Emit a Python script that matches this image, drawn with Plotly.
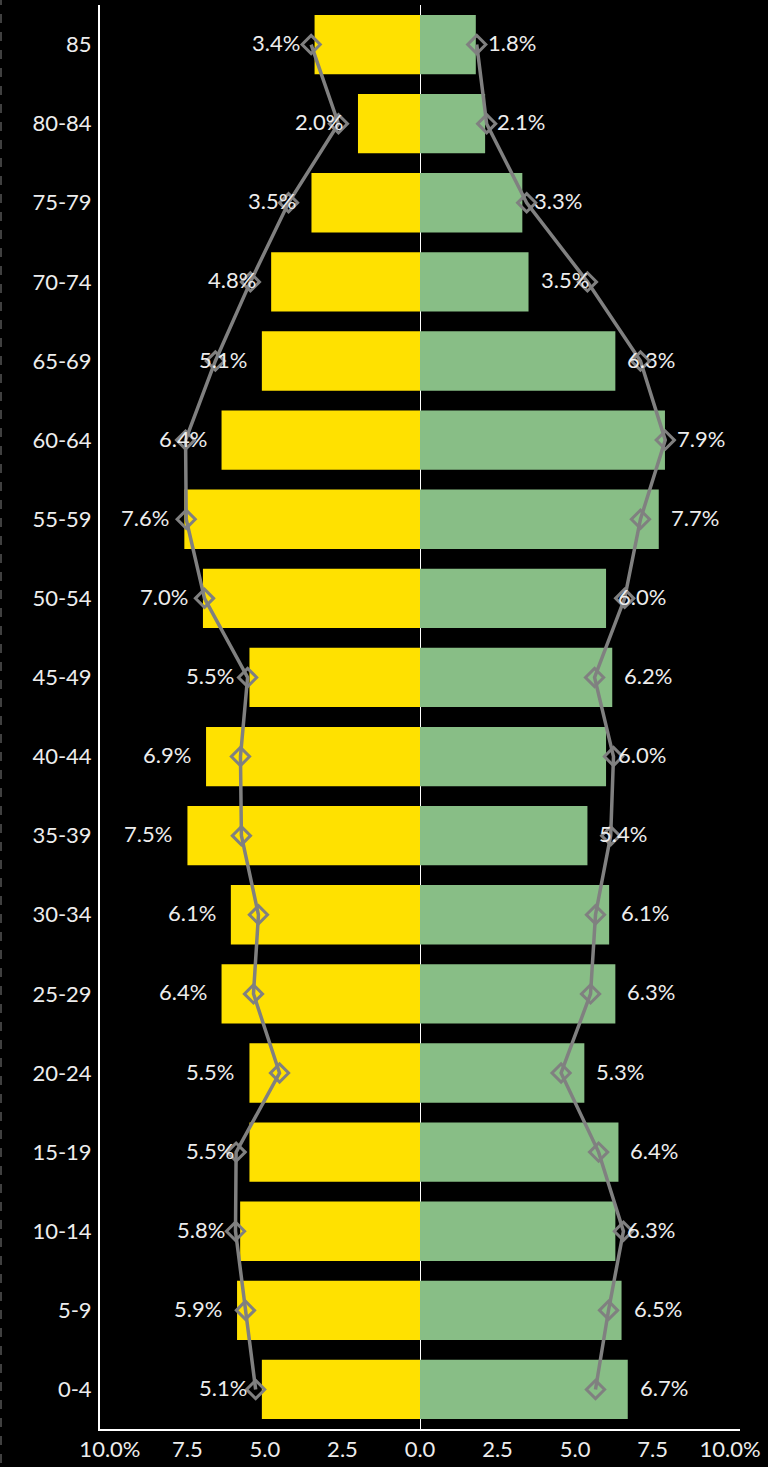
import plotly.graph_objects as go

categories = ["0-4", "5-9", "10-14", "15-19", "20-24", "25-29", "30-34", "35-39",
              "40-44", "45-49", "50-54", "55-59", "60-64", "65-69", "70-74",
              "75-79", "80-84", "85"]

left_bars = [5.1, 5.9, 5.8, 5.5, 5.5, 6.4, 6.1, 7.5, 6.9, 5.5, 7.0, 7.6, 6.4, 5.1,
             4.8, 3.5, 2.0, 3.4]
right_bars = [6.7, 6.5, 6.3, 6.4, 5.3, 6.3, 6.1, 5.4, 6.0, 6.2, 6.0, 7.7, 7.9, 6.3,
              3.5, 3.3, 2.1, 1.8]

left_line = [5.3, 5.63, 5.95, 5.93, 4.53, 5.37, 5.21, 5.76, 5.79, 5.56, 6.95, 7.54,
             7.56, 6.6, 5.47, 4.24, 2.63, 3.51]
right_line = [5.66, 6.08, 6.56, 5.76, 4.55, 5.5, 5.66, 6.15, 6.24, 5.63, 6.6, 7.11,
              7.91, 7.11, 5.4, 3.44, 2.15, 1.83]

tick_vals = [-10, -7.5, -5, -2.5, 0, 2.5, 5, 7.5, 10]
tick_text = ["10.0%", "7.5", "5.0", "2.5", "0.0", "2.5", "5.0", "7.5", "10.0%"]

YELLOW = "#FFE100"
GREEN = "#88BE86"
GRAY = "#808080"
TEXT = "#EDEDED"
FONT = "Lato"

fig = go.Figure()
fig.add_trace(go.Bar(y=categories, x=[-v for v in left_bars], orientation="h",
                     marker=dict(color=YELLOW, line=dict(width=0)), hoverinfo="skip"))
fig.add_trace(go.Bar(y=categories, x=right_bars, orientation="h",
                     marker=dict(color=GREEN, line=dict(width=0)), hoverinfo="skip"))

for vals, sign in ((left_line, -1), (right_line, 1)):
    fig.add_trace(go.Scatter(
        y=categories, x=[sign * v for v in vals], mode="lines+markers",
        line=dict(color=GRAY, width=3.5),
        marker=dict(symbol="diamond-open", size=14, color=GRAY, line=dict(width=3, color=GRAY)),
        hoverinfo="skip"))

annotations = []
for i, v in enumerate(left_bars):
    annotations.append(dict(x=-v, y=i, xref="x", yref="y", text=f"{v:.1f}%",
                            showarrow=False, xanchor="right", xshift=-13, yshift=2,
                            font=dict(family=FONT, size=22, color=TEXT)))
for i, v in enumerate(right_bars):
    annotations.append(dict(x=v, y=i, xref="x", yref="y", text=f"{v:.1f}%",
                            showarrow=False, xanchor="left", xshift=10, yshift=2,
                            font=dict(family=FONT, size=22, color=TEXT)))

W, H = 768, 1467
L, R, T, B = 100, 28, 5, 34

fig.update_layout(
    width=W, height=H,
    margin=dict(l=L, r=R, t=T, b=B, pad=0),
    paper_bgcolor="black", plot_bgcolor="black",
    barmode="overlay", bargap=0.25,
    showlegend=False,
    hovermode=False,
    font=dict(family=FONT, size=22, color=TEXT),
    annotations=annotations,
    xaxis=dict(range=[-10.32, 10.32], tickvals=tick_vals, ticktext=tick_text,
               showgrid=False, zeroline=True, zerolinecolor="white", zerolinewidth=1,
               showline=True, linecolor="white", linewidth=2, ticks="",
               tickfont=dict(family=FONT, size=22, color=TEXT), fixedrange=True),
    yaxis=dict(type="category", categoryorder="array", categoryarray=categories,
               range=[-0.5, len(categories) - 0.5], showgrid=False,
               showline=True, linecolor="white", linewidth=2, ticks="",
               ticklabelstandoff=2,
               tickfont=dict(family=FONT, size=22, color=TEXT), fixedrange=True),
    shapes=[dict(type="line", xref="paper", yref="paper",
                 x0=-(L - 1) / (W - L - R), x1=-(L - 1) / (W - L - R),
                 y0=-B / (H - T - B), y1=1 + T / (H - T - B),
                 line=dict(color="#555555", width=1.5, dash="dash"))],
)

fig.write_html("out.html",
               config={"displayModeBar": False},
               post_script="document.body.style.margin='0';"
                           "document.body.style.background='black';"
                           "document.documentElement.style.background='black';")
